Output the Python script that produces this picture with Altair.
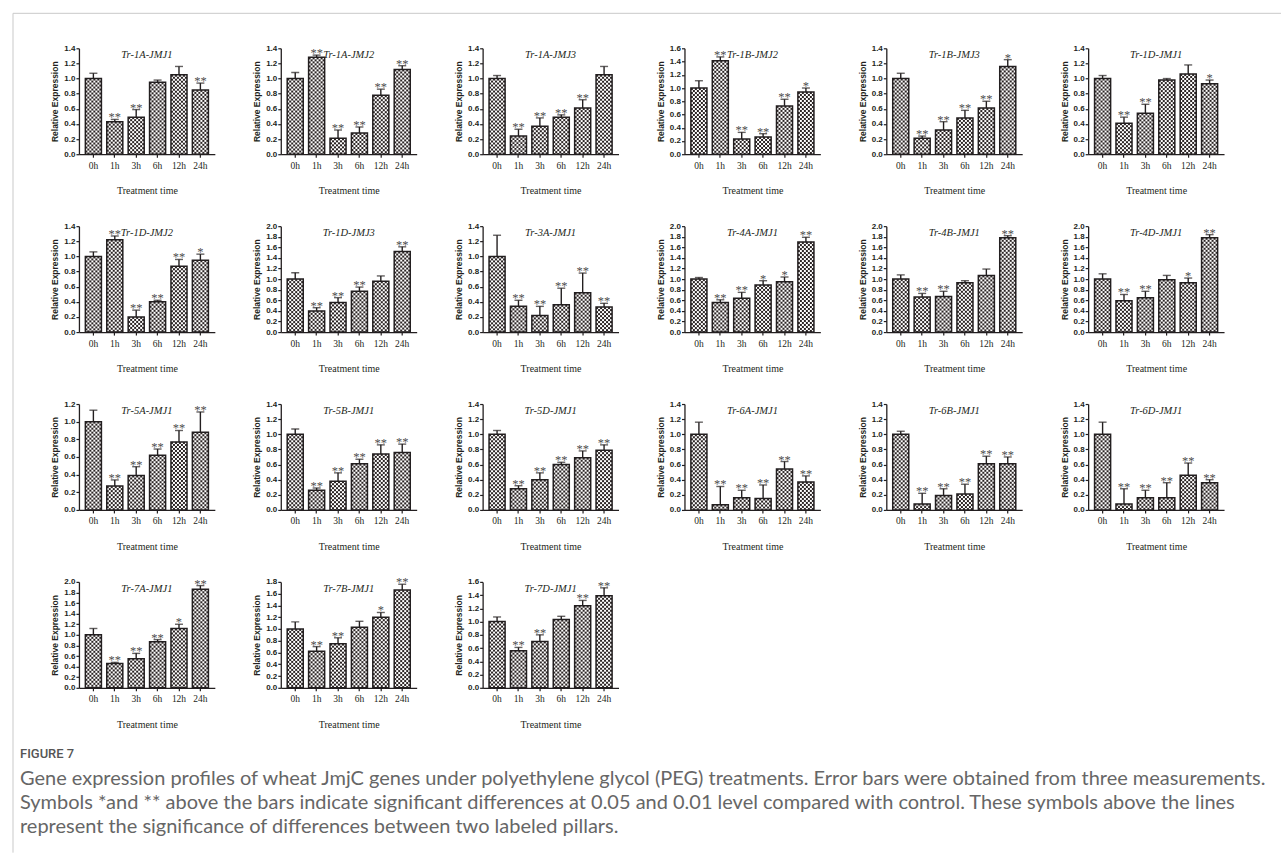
import base64

import altair as alt
import pandas as pd

# ---- data -----------------------------------------------------------------
HOURS = ["0h", "1h", "3h", "6h", "12h", "24h"]

GENES = [
    "Tr-1A-JMJ1", "Tr-1A-JMJ2", "Tr-1A-JMJ3", "Tr-1B-JMJ2", "Tr-1B-JMJ3", "Tr-1D-JMJ1",
    "Tr-1D-JMJ2", "Tr-1D-JMJ3", "Tr-3A-JMJ1", "Tr-4A-JMJ1", "Tr-4B-JMJ1", "Tr-4D-JMJ1",
    "Tr-5A-JMJ1", "Tr-5B-JMJ1", "Tr-5D-JMJ1", "Tr-6A-JMJ1", "Tr-6B-JMJ1", "Tr-6D-JMJ1",
    "Tr-7A-JMJ1", "Tr-7B-JMJ1", "Tr-7D-JMJ1",
]

Y_MAX = [
    1.4, 1.4, 1.4, 1.6, 1.4, 1.4,
    1.4, 2.0, 1.4, 2.0, 2.0, 2.0,
    1.2, 1.4, 1.4, 1.4, 1.4, 1.4,
    2.0, 1.8, 1.6,
]

MEANS = [
    [1.00, 0.43, 0.49, 0.95, 1.05, 0.85],
    [1.00, 1.28, 0.21, 0.28, 0.78, 1.12],
    [1.00, 0.24, 0.37, 0.49, 0.61, 1.05],
    [1.00, 1.41, 0.23, 0.26, 0.73, 0.94],
    [1.00, 0.21, 0.32, 0.48, 0.61, 1.16],
    [1.00, 0.41, 0.54, 0.98, 1.06, 0.93],
    [1.00, 1.22, 0.20, 0.40, 0.87, 0.95],
    [1.00, 0.40, 0.56, 0.77, 0.96, 1.52],
    [1.00, 0.34, 0.22, 0.36, 0.52, 0.33],
    [1.00, 0.56, 0.64, 0.89, 0.95, 1.70],
    [1.00, 0.66, 0.67, 0.93, 1.07, 1.78],
    [1.00, 0.59, 0.65, 0.99, 0.93, 1.78],
    [1.00, 0.27, 0.39, 0.62, 0.77, 0.88],
    [1.00, 0.26, 0.38, 0.61, 0.74, 0.76],
    [1.00, 0.28, 0.40, 0.60, 0.69, 0.79],
    [1.00, 0.07, 0.16, 0.15, 0.54, 0.37],
    [1.00, 0.08, 0.19, 0.21, 0.61, 0.61],
    [1.00, 0.08, 0.16, 0.16, 0.46, 0.36],
    [1.00, 0.46, 0.55, 0.87, 1.12, 1.86],
    [1.00, 0.62, 0.75, 1.03, 1.20, 1.66],
    [1.00, 0.56, 0.70, 1.03, 1.24, 1.39],
]

ERRORS = [
    [0.07, 0.03, 0.10, 0.03, 0.11, 0.09],
    [0.08, 0.03, 0.11, 0.08, 0.08, 0.05],
    [0.04, 0.09, 0.11, 0.03, 0.11, 0.11],
    [0.11, 0.06, 0.10, 0.05, 0.10, 0.06],
    [0.07, 0.03, 0.11, 0.10, 0.09, 0.09],
    [0.04, 0.08, 0.12, 0.02, 0.12, 0.05],
    [0.06, 0.05, 0.09, 0.02, 0.09, 0.08],
    [0.12, 0.06, 0.09, 0.08, 0.10, 0.09],
    [0.28, 0.08, 0.12, 0.22, 0.26, 0.05],
    [0.03, 0.05, 0.11, 0.08, 0.09, 0.09],
    [0.08, 0.07, 0.10, 0.04, 0.12, 0.04],
    [0.10, 0.12, 0.12, 0.08, 0.09, 0.06],
    [0.13, 0.07, 0.10, 0.07, 0.13, 0.23],
    [0.07, 0.03, 0.11, 0.06, 0.12, 0.11],
    [0.05, 0.04, 0.09, 0.03, 0.09, 0.07],
    [0.16, 0.24, 0.10, 0.18, 0.10, 0.08],
    [0.04, 0.14, 0.09, 0.13, 0.10, 0.09],
    [0.16, 0.20, 0.10, 0.20, 0.16, 0.04],
    [0.12, 0.02, 0.10, 0.04, 0.08, 0.07],
    [0.12, 0.08, 0.10, 0.10, 0.08, 0.10],
    [0.07, 0.05, 0.10, 0.05, 0.08, 0.12],
]

STARS = [
    ["", "**", "**", "", "", "**"],
    ["", "**", "**", "**", "**", "**"],
    ["", "**", "**", "**", "**", ""],
    ["", "**", "**", "**", "**", "*"],
    ["", "**", "**", "**", "**", "*"],
    ["", "**", "**", "", "", "*"],
    ["", "**", "**", "**", "**", "*"],
    ["", "**", "**", "**", "", "**"],
    ["", "**", "**", "**", "**", "**"],
    ["", "**", "**", "*", "*", "**"],
    ["", "**", "**", "", "", "**"],
    ["", "**", "**", "", "*", "**"],
    ["", "**", "**", "**", "**", "**"],
    ["", "**", "**", "**", "**", "**"],
    ["", "**", "**", "**", "**", "**"],
    ["", "**", "**", "**", "**", "**"],
    ["", "**", "**", "**", "**", "**"],
    ["", "**", "**", "**", "**", "**"],
    ["", "**", "**", "**", "*", "**"],
    ["", "**", "**", "", "*", "**"],
    ["", "**", "**", "", "**", "**"],
]

FIGURE_LABEL = "FIGURE 7"
CAPTION = [
    "Gene expression profiles of wheat JmjC genes under polyethylene glycol (PEG) treatments. "
    "Error bars were obtained from three measurements.",
    "Symbols *and ** above the bars indicate significant differences at 0.05 and 0.01 level "
    "compared with control. These symbols above the lines",
    "represent the significance of differences between two labeled pillars.",
]

# ---- layout & style -------------------------------------------------------
PANEL_W, PANEL_H = 136, 106
COL_GAP, ROW_GAP = 66, 72
LEFT, TOP = 78, 47
PER_ROW = 6
INK = "#231f20"
SERIF = "Liberation Serif"
SANS = "Liberation Sans"
FRAME = "#c9c9c9"

# checkerboard fill used inside the bars (tiles at 1:1, no scaling)
_checker_svg = (
    "<svg xmlns='http://www.w3.org/2000/svg'>"
    "<defs><pattern id='c' width='4' height='4' patternUnits='userSpaceOnUse'>"
    "<rect width='4' height='4' fill='#ffffff'/>"
    "<rect width='2' height='2' fill='#2b2424'/>"
    "<rect x='2' y='2' width='2' height='2' fill='#2b2424'/>"
    "</pattern></defs>"
    "<rect width='100%' height='100%' fill='url(#c)'/></svg>"
)
CHECKER = "data:image/svg+xml;base64," + base64.b64encode(_checker_svg.encode()).decode()


def caption_layers(ox, oy):
    """Figure caption and the thin frame lines, placed relative to a panel at (ox, oy)."""
    base = alt.Chart(pd.DataFrame({"k": [0]}))
    frame_left = base.mark_rule(color=FRAME, strokeWidth=1).encode(
        x=alt.value(12 - ox), y=alt.value(12 - oy), y2=alt.value(852 - oy)
    )
    frame_top = base.mark_rule(color=FRAME, strokeWidth=1).encode(
        x=alt.value(12 - ox), x2=alt.value(1281 - ox), y=alt.value(12 - oy)
    )
    label = base.mark_text(
        align="left", baseline="middle", font="Roboto", fontSize=13, fontWeight=500,
        color="#555555",
    ).encode(x=alt.value(19 - ox), y=alt.value(753 - oy), text=alt.value(FIGURE_LABEL))
    body = base.mark_text(
        align="left", baseline="middle", font="Lato", fontSize=20, lineHeight=24,
        color="#666666",
    ).encode(x=alt.value(19 - ox), y=alt.value(778 - oy), text=alt.value(CAPTION))
    return [frame_left, frame_top, label, body]


def panel(i):
    df = pd.DataFrame({
        "time": HOURS,
        "mean": MEANS[i],
        "err": ERRORS[i],
        "star": STARS[i],
    })
    ymax = Y_MAX[i]
    ticks = [round(k * 0.2, 1) for k in range(int(round(ymax / 0.2)) + 1)]
    yscale = alt.Scale(domain=[0, ymax], nice=False, zero=True)
    ytitle = "Relative Expression"

    def yenc(field, **kw):
        return alt.Y(
            field,
            scale=yscale,
            title=ytitle,
            axis=alt.Axis(values=ticks, format=".1f", labelOverlap=False,
                          labelSeparation=0),
            **kw,
        )

    base = alt.Chart(df).transform_calculate(
        top="datum.mean + datum.err"
    ).encode(
        x=alt.X(
            "time:N",
            sort=HOURS,
            title="Treatment time",
            scale=alt.Scale(paddingInner=0.25, paddingOuter=0.3),
        )
    )

    fill = base.mark_bar(color="#8a8585").encode(y=yenc("mean:Q", stack=None))
    checker = base.mark_image(aspect=False).encode(
        y=yenc("mean:Q"), y2=alt.datum(0), url=alt.value(CHECKER)
    )
    outline = base.mark_bar(fillOpacity=0, stroke=INK, strokeWidth=1.5).encode(
        y=yenc("mean:Q", stack=None)
    )
    whisker = base.mark_rule(color=INK, strokeWidth=1.4).encode(
        y=yenc("mean:Q"), y2="top:Q"
    )
    cap = base.mark_tick(color=INK, thickness=1.4, size=8).encode(y=yenc("top:Q"))
    stars = base.mark_text(
        font=SERIF, fontSize=12.5, color="#4d4d4d", baseline="alphabetic", dy=2
    ).encode(y=yenc("top:Q"), text="star:N")
    name = alt.Chart(pd.DataFrame({"gene": [GENES[i]]})).mark_text(
        font=SERIF, fontStyle="italic", fontSize=10.5, color=INK, baseline="middle"
    ).encode(
        x=alt.value(PANEL_W / 2), y=alt.value(7), text="gene:N"
    )
    layers = [fill, checker, outline, whisker, cap, stars, name]
    if i == (len(GENES) - 1) // PER_ROW * PER_ROW:
        row = i // PER_ROW
        layers += caption_layers(LEFT, TOP + row * (PANEL_H + ROW_GAP))
    return alt.layer(*layers).properties(width=PANEL_W, height=PANEL_H)


chart = alt.concat(
    *[panel(i) for i in range(len(GENES))],
    columns=PER_ROW,
    spacing={"row": ROW_GAP, "column": COL_GAP},
    bounds="flush",
).properties(
    padding={"left": 12, "top": 12, "right": 0, "bottom": 0}
).configure_view(
    strokeWidth=0
).configure_axisX(
    labelFont=SERIF, labelFontSize=9.5, labelColor=INK, labelAngle=0, labelPadding=3,
    titleFont=SERIF, titleFontSize=10, titleFontWeight="normal", titleColor=INK,
    titlePadding=16, domainColor=INK, domainWidth=1.3, tickColor=INK, tickSize=3,
    tickWidth=1.2,
).configure_axisY(
    labelFont=SANS, labelFontSize=8, labelFontWeight="bold", labelColor=INK,
    labelPadding=1, labelOverlap=False, titleFont=SANS, titleFontSize=8.5,
    titleFontWeight="bold", titleColor=INK, titlePadding=4, domainColor=INK,
    domainWidth=1.3, tickColor=INK, tickSize=3, tickWidth=1.2, grid=False,
)

chart.save("out.html", embed_options={"renderer": "svg", "actions": False})
